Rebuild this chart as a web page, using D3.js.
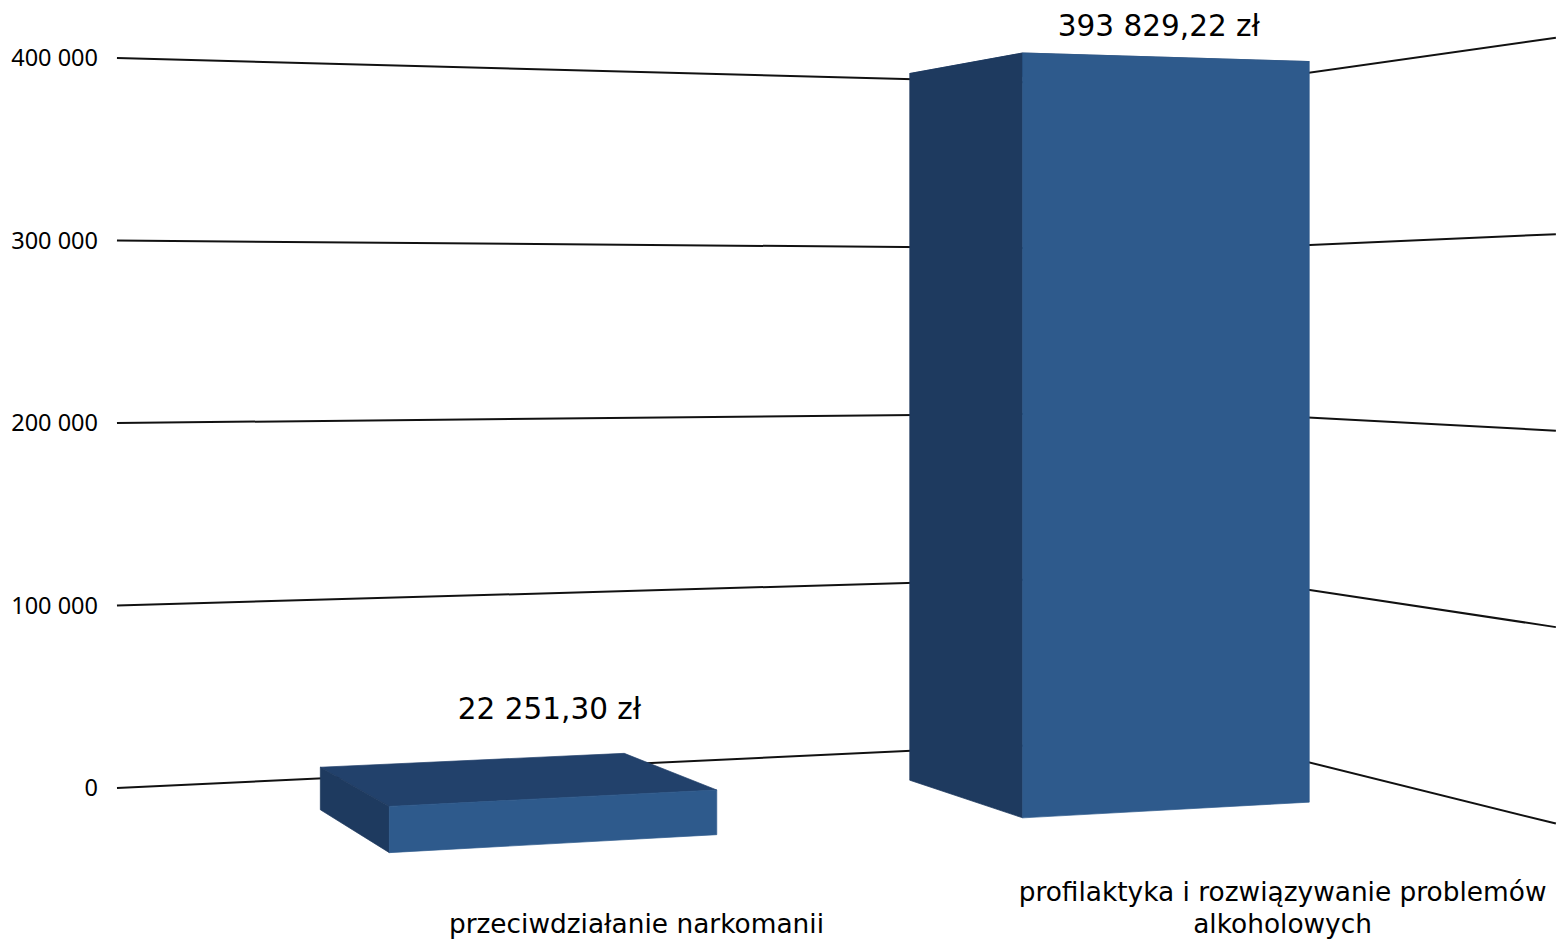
<!DOCTYPE html>
<html>
<head>
<meta charset="utf-8">
<script src="https://cdn.jsdelivr.net/npm/d3@7"></script>
<style>
  html, body { margin: 0; padding: 0; background: #ffffff; }
  svg { display: block; }
</style>
</head>
<body>
<svg id="chart"></svg>
<script>
'use strict'

/****** DATA ******/

const CATEGORIES = ['przeciwdziałanie narkomanii', 'profilaktyka i rozwiązywanie problemów alkoholowych']
const VALUES = [22251.30, 393829.22]
const TICKS = [0, 100000, 200000, 300000, 400000]

/****** PARAMETERS ******/

const WIDTH = 1557, HEIGHT = 940

// world: X along back wall, Y up (thousands), Z toward viewer
const WALL_W = 666.6, WALL_D = 384.5
const BAR_Z = [120, 273] // back, front

// camera (yaw only, so verticals stay vertical)
const cam = {
  cx: 778, cy: 323,   // principal point / horizon
  f: 3390,
  theta: 20.1 * Math.PI / 180,
  x0: -362.2, d0: 1857.5, // back-left corner of the wall in camera space
  eye: 254.8
}

const COLORS = { front: '#2e5a8c', left: '#1e3a5f', top: '#22416b', grid: '#111111' }

const pl = d3.formatLocale({ decimal: ',', thousands: ' ', grouping: [3], currency: ['', ' zł'] })
const tickFormat = pl.format(',d')
const valueFormat = pl.format('$,.2f')

/****** SCALES ******/

const x = d3.scaleBand()
  .domain(CATEGORIES)
  .range([0, WALL_W])
  .paddingInner(0.5)
  .paddingOuter(0.25)
  .align(0.52)

const h = d3.scaleLinear()
  .domain([0, 400000])
  .range([0, 400])

function project([X, Y, Z]) {
  const c = Math.cos(cam.theta), s = Math.sin(cam.theta)
  const xc = cam.x0 + X * c + Z * s
  const dc = cam.d0 + X * s - Z * c
  return [cam.cx + cam.f * xc / dc, cam.cy - cam.f * (Y - cam.eye) / dc]
}

const poly = pts => d3.line()(pts.map(project)) + 'Z'

/****** DRAW ******/

const svg = d3.select('#chart')
  .attr('width', WIDTH)
  .attr('height', HEIGHT)

// gridlines on back wall and side wall
const grid = svg.append('g')
  .attr('fill', 'none')
  .attr('stroke', COLORS.grid)
  .attr('stroke-width', 2)

grid.selectAll('.back')
  .data(TICKS)
  .join('path')
    .attr('class', 'back')
    .attr('d', v => d3.line()([project([0, h(v), 0]), project([WALL_W, h(v), 0])]))

grid.selectAll('.side')
  .data(TICKS)
  .join('path')
    .attr('class', 'side')
    .attr('d', v => d3.line()([project([WALL_W, h(v), 0]), project([WALL_W, h(v), WALL_D])]))

// y tick labels
svg.append('g')
  .selectAll('text')
  .data(TICKS)
  .join('text')
    .attr('x', v => project([0, h(v), 0])[0] - 19)
    .attr('y', v => project([0, h(v), 0])[1])
    .attr('dy', '0.35em')
    .attr('text-anchor', 'end')
    .attr('font-family', '"Noto Sans", "Liberation Sans", Arial, sans-serif')
    .attr('font-size', 23.5)
    .attr('fill', '#000')
    .text(tickFormat)

// bars
const bars = CATEGORIES.map((c, i) => {
  const x0 = x(c), x1 = x0 + x.bandwidth(), y1 = h(VALUES[i])
  const [z0, z1] = BAR_Z
  return {
    cat: c, value: VALUES[i],
    top:   [[x0, y1, z0], [x1, y1, z0], [x1, y1, z1], [x0, y1, z1]],
    left:  [[x0, 0, z0], [x0, y1, z0], [x0, y1, z1], [x0, 0, z1]],
    front: [[x0, 0, z1], [x1, 0, z1], [x1, y1, z1], [x0, y1, z1]],
    labelAt: [(x0 + x1) / 2, y1, z0, z1 - 11]
  }
})

const barG = svg.selectAll('.bar')
  .data(bars)
  .join('g')
    .attr('class', 'bar')
    .attr('stroke-width', 0.7)
    .attr('stroke-linejoin', 'round')

barG.append('path').attr('d', d => poly(d.top)).attr('fill', COLORS.top).attr('stroke', COLORS.top)
barG.append('path').attr('d', d => poly(d.left)).attr('fill', COLORS.left).attr('stroke', COLORS.left)
barG.append('path').attr('d', d => poly(d.front)).attr('fill', COLORS.front).attr('stroke', COLORS.front)

// value labels
svg.append('g')
  .selectAll('text')
  .data(bars)
  .join('text')
    .attr('x', d => project([d.labelAt[0], d.labelAt[1], d.labelAt[3]])[0])
    .attr('y', d => project([d.labelAt[0], d.labelAt[1], d.labelAt[2]])[1] - 41)
    .attr('text-anchor', 'middle')
    .attr('font-family', '"DejaVu Sans", Verdana, sans-serif')
    .attr('font-size', 29.5)
    .attr('fill', '#000')
    .text(d => valueFormat(d.value))

// category labels, wrapped and bottom aligned
const LABEL_BASE = 933, LINE_H = 32, WRAP = 580

const catText = svg.append('g')
  .selectAll('text')
  .data(CATEGORIES)
  .join('text')
    .attr('text-anchor', 'middle')
    .attr('font-family', '"DejaVu Sans", Verdana, sans-serif')
    .attr('font-size', 26.4)
    .attr('fill', '#000')

catText.each(function(c) {
  const el = d3.select(this)
  const cxLabel = project([x(c) + x.bandwidth() / 2, 0, WALL_D])[0] + 12
  // greedy word wrap
  const words = c.split(' ')
  const lines = []
  let line = []
  const probe = el.append('tspan')
  for (const w of words) {
    line.push(w)
    probe.text(line.join(' '))
    if (probe.node().getComputedTextLength() > WRAP && line.length > 1) {
      line.pop()
      lines.push(line.join(' '))
      line = [w]
    }
  }
  lines.push(line.join(' '))
  probe.remove()
  lines.forEach((l, i) => {
    el.append('tspan')
      .attr('x', cxLabel)
      .attr('y', LABEL_BASE - (lines.length - 1 - i) * LINE_H)
      .text(l)
  })
})
</script>
</body>
</html>
